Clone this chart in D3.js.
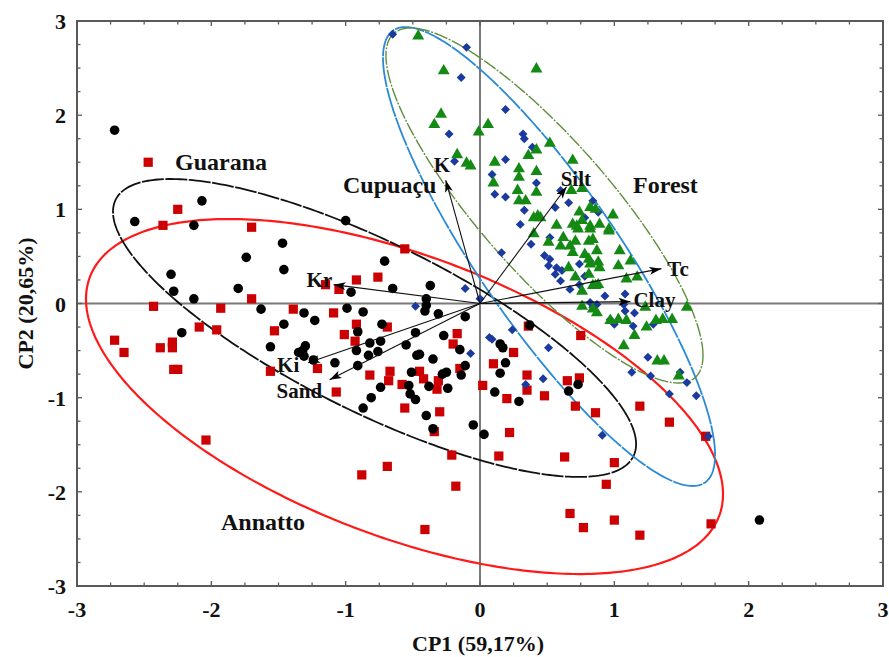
<!DOCTYPE html>
<html><head><meta charset="utf-8">
<script src="https://cdn.jsdelivr.net/npm/d3@7"></script>
<style>body{margin:0;background:#fff}svg{display:block}</style>
</head><body><svg id="c" width="889" height="657"></svg>
<script>
// ---------- data ----------
const xTicks = [-3, -2, -1, 0, 1, 2, 3];
const yTicks = [-3, -2, -1, 0, 1, 2, 3];
const xTitle = "CP1 (59,17%)";
const yTitle = "CP2 (20,65%)";

const guarana = [[-2.72,1.84],[-2.07,1.09],[-2.57,0.87],[-2.13,0.83],[-1.47,0.64],[-1.74,0.49],[-1.46,0.36],[-2.30,0.31],[-2.28,0.13],[-1.80,0.16],[-2.13,0.05],[-1.63,-0.06],[-1.46,-0.22],[-2.22,-0.31],[-1.56,-0.46],[-1.35,-0.52],
[-1.00,0.88],[-0.71,0.45],[-0.65,0.16],[-0.37,0.19],[-0.96,0.12],[-0.40,0.05],[-0.40,-0.02],[-0.41,-0.08],[-0.31,-0.11],[-0.11,-0.14],[-0.99,-0.05],[-0.87,-0.09],[-1.31,-0.10],[-1.23,-0.18],[-0.73,-0.22],[-0.91,-0.30],[-0.48,-0.31],[-0.82,-0.42],[-0.74,-0.40],[-0.55,-0.44],[-0.27,-0.34],[-1.30,-0.45],[-1.32,-0.50],[-1.31,-0.56],[-1.24,-0.60],[-0.92,-0.50],[-0.83,-0.55],[-0.76,-0.51],[-0.47,-0.55],[-0.45,-0.54],[-0.35,-0.59],[-0.15,-0.49],[-1.08,-0.63],[-0.91,-0.66],[-0.25,-0.73],[-0.28,-0.75],[-0.11,-0.66],[-0.14,-0.76],[-0.51,-0.73],[-0.74,-0.89],[-0.53,-0.87],[-0.52,-0.96],[-0.48,-1.02],[-0.81,-1.00],[-0.87,-1.11],[-0.38,-0.88],[-0.24,-0.90],[0.15,-0.43],[0.17,-0.47],[0.19,-0.63],[0.15,-0.74],[0.11,-0.94],[0.29,-1.04],[0.37,-0.23],[0.66,-0.93],[0.73,-0.86],[-0.40,-1.19],[-0.35,-1.33],[-0.05,-1.29],[0.03,-1.39],[2.08,-2.30]];

const annatto = [[-2.47,1.50],[-2.25,1.00],[-2.36,0.83],[-1.70,0.81],[-1.70,0.05],[-2.43,-0.03],[-1.93,-0.05],[-1.39,-0.06],[-2.09,-0.25],[-1.96,-0.28],[-1.53,-0.29],[-2.72,-0.39],[-2.65,-0.52],[-2.38,-0.47],[-2.29,-0.41],[-2.29,-0.47],[-2.28,-0.70],[-2.25,-0.70],[-1.56,-0.72],[-2.04,-1.45],
[-0.56,0.58],[-0.76,0.28],[-0.92,0.25],[-1.15,0.20],[-1.05,0.15],[-1.09,-0.10],[-0.92,-0.22],[-0.69,-0.25],[-1.01,-0.33],[-0.93,-0.40],[-1.21,-0.69],[-1.07,-0.94],[-0.82,-0.76],[-0.67,-0.72],[-0.68,-0.82],[-0.58,-0.86],[-0.45,-0.72],[-0.42,-0.80],[-0.31,-0.82],[-0.32,-0.91],[-0.56,-1.11],[-0.30,-1.15],[-0.17,-0.32],[-0.20,-0.43],[-0.15,-0.69],[0.02,-0.87],[0.10,-0.64],[0.25,-0.52],[0.35,-0.76],[0.35,-0.92],[0.20,-1.01],[0.48,-0.98],[0.36,-0.24],[0.75,-0.34],[0.65,-0.82],[0.74,-0.79],[0.71,-1.09],[0.86,-1.16],
[-0.34,-1.36],[-0.21,-1.61],[-0.18,-1.94],[-0.69,-1.73],[-0.88,-1.82],[-0.41,-2.40],[0.22,-1.37],[0.14,-1.62],[0.63,-1.63],[0.67,-2.23],[0.77,-2.38],
[1.19,-1.09],[1.41,-1.26],[1.68,-1.41],[1.00,-1.69],[0.94,-1.92],[1.00,-2.30],[1.19,-2.46],[1.72,-2.34]];

const cupuacu = [[-0.65,2.86],[-0.10,2.72],[-0.14,2.40],[0.19,2.06],[-0.23,1.80],[0.32,1.80],[0.33,1.75],[0.39,1.66],[0.19,1.53],[-0.19,1.51],[0.09,1.37],[0.42,1.28],[0.11,1.16],[0.19,1.13],[0.33,0.99],[0.56,1.02],[0.66,1.07],[0.60,1.20],[0.30,0.84],[0.38,0.63],[0.52,0.70],[0.16,0.54],[0.48,0.51],[0.52,0.47],[0.51,0.40],[0.57,0.38],[0.56,0.31],[0.61,0.35],[0.60,0.24],[0.67,0.15],[0.74,0.42],[0.74,0.20],[0.93,0.08],[0.82,0.01],[0.84,-0.04],[0.87,-0.01],[1.08,0.10],[1.07,-0.01],[1.08,-0.08],[1.15,-0.10],[1.00,-0.22],[1.14,-0.24],[1.29,-0.22],[0.24,-0.28],[0.51,-0.47],[0.09,-0.38],[1.25,-0.57],[1.13,-0.73],[1.49,-0.73],[1.54,-0.84],[0.47,-0.80],[0.34,-0.86],[1.41,-0.96],[1.61,-0.98],[0.97,-0.17],[1.27,-0.77],[0.84,1.09],[0.88,0.97],[0.78,0.91],[0.82,0.45],[0.78,0.29],[0.91,-1.40],[1.70,-1.41],[-0.11,0.16],[-0.48,-0.03],[0.07,-0.36],[-0.07,-0.53],[0.00,0.05]];

const forest = [[-0.46,2.84],[0.42,2.49],[-0.27,2.47],[-0.29,2.01],[-0.34,1.90],[0.06,1.90],[-0.01,1.82],[0.52,1.70],[0.42,1.63],[0.36,1.57],[-0.17,1.58],[-0.10,1.49],[-0.07,1.46],[0.11,1.50],[0.29,1.43],[0.29,1.34],[0.42,1.40],[0.10,1.28],[0.69,1.52],[0.28,1.20],[0.34,1.09],[0.29,1.09],[0.68,1.20],[0.76,1.22],[0.74,0.97],[0.82,1.02],[0.86,1.00],[0.43,0.93],[0.42,1.18],[0.99,0.94],[0.76,0.88],[0.72,0.82],[0.40,0.91],[0.45,0.91],[0.57,0.83],[0.82,0.82],[0.89,0.84],[0.69,0.84],[0.73,0.79],[0.82,0.79],[0.96,0.79],[0.40,0.74],[0.62,0.70],[0.71,0.66],[0.81,0.66],[0.84,0.68],[0.51,0.65],[0.60,0.61],[0.67,0.61],[0.69,0.54],[0.78,0.52],[0.87,0.56],[0.81,0.47],[0.88,0.44],[0.82,0.42],[1.04,0.56],[0.66,0.38],[0.89,0.38],[1.03,0.40],[1.12,0.45],[0.71,0.28],[0.81,0.31],[0.86,0.19],[0.76,0.13],[1.09,0.26],[1.17,0.28],[0.76,-0.03],[0.84,-0.06],[0.87,-0.10],[0.97,-0.18],[1.03,-0.17],[1.09,-0.18],[1.23,-0.04],[1.15,-0.34],[1.24,-0.25],[1.36,-0.17],[1.43,-0.17],[1.54,-0.04],[1.07,-0.45],[1.32,-0.61],[1.37,-0.61],[1.48,-0.77],[0.96,0.77],[0.84,0.19],[0.88,0.20],[1.31,-0.18]];

// loading vectors (variables)
const varNames = ["K", "Silt", "Tc", "Clay", "Kr", "Ki", "Sand"];
const varX = [-0.255, 0.645, 1.35, 1.12, -1.09, -1.28, -1.12];
const varY = [1.31, 1.24, 0.37, 0.02, 0.20, -0.63, -0.81];

// confidence ellipses: center, half-extent in x and y, correlation
const ellNames = ["Annatto", "Guarana", "Cupuaçu", "Forest"];
const ellCx = [-0.562, -0.785, 0.514, 0.480];
const ellCy = [-0.988, -0.260, 0.499, 1.041];
const ellWx = [2.371, 1.947, 1.236, 1.180];
const ellHy = [1.885, 1.582, 2.437, 1.885];
const ellR  = [-0.55, -0.78, -0.865, -0.845];

// ---------- drawing ----------
const svg = d3.select("#c");
const x = d3.scaleLinear().domain([-3, 3]).range([77, 883]);
const y = d3.scaleLinear().domain([-3, 3]).range([586, 21]);
const FONT = "'Liberation Serif','Times New Roman',serif";

// zero lines
svg.append("line").attr("x1", x(-3)).attr("x2", x(3)).attr("y1", y(0)).attr("y2", y(0))
  .attr("stroke", "#7a7a7a").attr("stroke-width", 2);
svg.append("line").attr("x1", x(0)).attr("x2", x(0)).attr("y1", y(-3)).attr("y2", y(3))
  .attr("stroke", "#7a7a7a").attr("stroke-width", 2);

// ellipses
const ellColors = ["#ff1a1a", "#111111", "#2a8ad6", "#5f8f3c"];
const ellWidths = [2.2, 1.8, 1.8, 1.4];
const ellDash = [null, "22,1.5", "30,1", "14,1.5,2,1.5"];
const line = d3.line().x(d => x(d[0])).y(d => y(d[1])).curve(d3.curveLinearClosed);
ellNames.forEach((n, i) => {
  const s = Math.sqrt(1 - ellR[i] * ellR[i]);
  const pts = d3.range(0, 360, 1).map(a => {
    const t = a * Math.PI / 180;
    return [ellCx[i] + ellWx[i] * Math.cos(t),
            ellCy[i] + ellHy[i] * (ellR[i] * Math.cos(t) + s * Math.sin(t))];
  });
  svg.append("path").attr("d", line(pts)).attr("fill", "none")
    .attr("stroke", ellColors[i]).attr("stroke-width", ellWidths[i])
    .attr("stroke-dasharray", ellDash[i]);
});

// points
function drawPts(data, type, size, color, rot) {
  svg.append("g").selectAll("path").data(data).join("path")
    .attr("transform", d => `translate(${x(d[0])},${y(d[1])}) rotate(${rot || 0})`)
    .attr("d", d3.symbol().type(type).size(size)())
    .attr("fill", color);
}
drawPts(annatto, d3.symbolSquare, 85, "#cc0000");
drawPts(guarana, d3.symbolCircle, 72, "#000000");
drawPts(cupuacu, d3.symbolSquare, 40, "#1a3a9e", 45);
drawPts(forest, d3.symbolTriangle, 62, "#148a14");

// arrows
const defs = svg.append("defs");
defs.append("marker").attr("id", "ah").attr("viewBox", "0 0 12 8")
  .attr("refX", 12).attr("refY", 4).attr("markerWidth", 12).attr("markerHeight", 8)
  .attr("markerUnits", "userSpaceOnUse").attr("orient", "auto")
  .append("path").attr("d", "M0,0 L12,4 L0,8 L3,4 Z").attr("fill", "#000");
varNames.forEach((n, i) => {
  svg.append("line").attr("x1", x(0)).attr("y1", y(0)).attr("x2", x(varX[i])).attr("y2", y(varY[i]))
    .attr("stroke", "#111").attr("stroke-width", 1.1).attr("marker-end", "url(#ah)");
});

// variable labels (offset from arrow tips)
const varLabelDx = [-12, -6, 6, 3, -27, -31, -53];
const varLabelDy = [-8, -1, 7, 5, 2, 9, 18];
varNames.forEach((n, i) => {
  svg.append("text").attr("x", x(varX[i]) + varLabelDx[i]).attr("y", y(varY[i]) + varLabelDy[i])
    .attr("font-family", FONT).attr("font-size", 21).attr("font-weight", "bold")
    .attr("fill", "#111").text(n);
});

// group labels
const grpLabX = [221, 175, 343, 633];
const grpLabY = [530, 170, 193, 193];
ellNames.forEach((n, i) => {
  svg.append("text").attr("x", grpLabX[i]).attr("y", grpLabY[i])
    .attr("font-family", FONT).attr("font-size", 24).attr("font-weight", "bold")
    .attr("fill", "#111").text(n);
});

// frame
svg.append("rect").attr("x", x(-3)).attr("y", y(3)).attr("width", x(3) - x(-3)).attr("height", y(-3) - y(3))
  .attr("fill", "none").attr("stroke", "#5a5a5a").attr("stroke-width", 2);

// ticks (inward, every 0.25)
const minor = d3.range(-3, 3.001, 0.25);
const tg = svg.append("g").attr("stroke", "#5a5a5a").attr("stroke-width", 1.3);
minor.forEach(v => {
  const L = Math.abs(v - Math.round(v)) < 1e-6 ? 5 : 3.5;
  tg.append("line").attr("x1", x(v)).attr("x2", x(v)).attr("y1", y(-3)).attr("y2", y(-3) - L);
  tg.append("line").attr("x1", x(v)).attr("x2", x(v)).attr("y1", y(3)).attr("y2", y(3) + L);
  tg.append("line").attr("y1", y(v)).attr("y2", y(v)).attr("x1", x(-3)).attr("x2", x(-3) + L);
  tg.append("line").attr("y1", y(v)).attr("y2", y(v)).attr("x1", x(3)).attr("x2", x(3) - L);
});

// tick labels
svg.append("g").selectAll("text").data(xTicks).join("text")
  .attr("x", d => x(d)).attr("y", 617).attr("text-anchor", "middle")
  .attr("font-family", FONT).attr("font-size", 22).attr("font-weight", "bold").attr("fill", "#111")
  .text(d => d);
svg.append("g").selectAll("text").data(yTicks).join("text")
  .attr("x", 66).attr("y", d => y(d) + 8).attr("text-anchor", "end")
  .attr("font-family", FONT).attr("font-size", 22).attr("font-weight", "bold").attr("fill", "#111")
  .text(d => d);

// axis titles
svg.append("text").attr("x", 478).attr("y", 651).attr("text-anchor", "middle")
  .attr("font-family", FONT).attr("font-size", 22).attr("font-weight", "bold").attr("fill", "#111")
  .text(xTitle);
svg.append("text").attr("transform", `translate(33,${y(0)}) rotate(-90)`).attr("text-anchor", "middle")
  .attr("font-family", FONT).attr("font-size", 22).attr("font-weight", "bold").attr("fill", "#111")
  .text(yTitle);
</script></body></html>
